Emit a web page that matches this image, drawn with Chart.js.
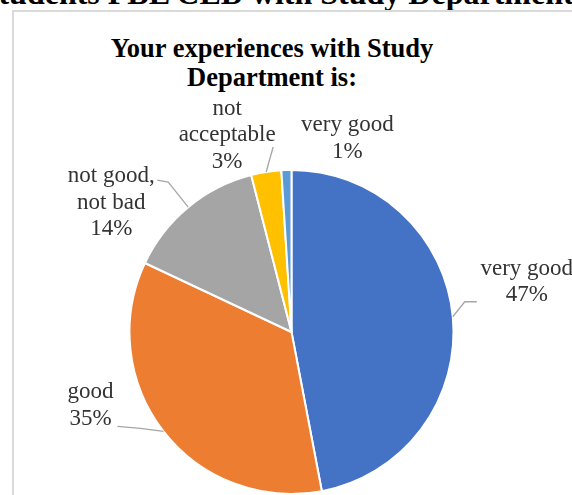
<!DOCTYPE html>
<html>
<head>
<meta charset="utf-8">
<title>Your experiences with Study Department is:</title>
<script src="https://cdn.jsdelivr.net/npm/chart.js@4.4.1/dist/chart.umd.min.js"></script>
<style>
  html, body { margin: 0; padding: 0; background: #fff; overflow: hidden; }
  #page { position: relative; width: 572px; height: 495px; overflow: hidden; }
  .heading {
    position: absolute; left: -14px; top: -23px; white-space: nowrap;
    font: bold 32px "Liberation Serif", "Times New Roman", serif; line-height: 32px; color: #000;
  }
  .frame {
    position: absolute; left: 12px; top: 10px; width: 700px; height: 700px;
    border: 2px solid #dadada; box-sizing: border-box;
  }
  .title {
    position: absolute; left: 12px; width: 520px; top: 34px; text-align: center;
    font: bold 26.5px "Liberation Serif", "Times New Roman", serif; line-height: 29px; color: #000;
  }
  #chart { position: absolute; left: 0; top: 0; }
</style>
</head>
<body>
<div id="page">
  <div class="heading">students PBL CED with Study Department</div>
  <div class="frame"></div>
  <div class="title">Your experiences with Study<br>Department is:</div>
  <canvas id="chart" width="572" height="495"></canvas>
</div>
<script>
// answers (multi-line labels as arrays) and their share in percent
const categories = [['very good'], ['good'], ['not good,', 'not bad'], ['not', 'acceptable'], ['very good']];
const shares = [47, 35, 14, 3, 1];
const sliceColors = ['#4472C4', '#ED7D31', '#A5A5A5', '#FFC000', '#5B9BD5'];

// where each label sits, relative to the point on the rim in the middle of its slice
const labelPlacement = [
  { dx: 74, dy: -42, leader: [[12, -15], [24, -15]] },
  { dx: -73, dy: -33, leader: [[-23, -3], [-46, -5]] },
  { dx: -77, dy: -25, leader: [[-20, -25], [-31, -27]] },
  { dx: -39, dy: -57, leader: [[7, -25]] },
  { dx: 61, dy: -39, leader: null }
];

// labels "name + percent" with grey leader lines
const sliceLabels = {
  id: 'sliceLabels',
  afterDatasetsDraw(chart) {
    const ctx = chart.ctx;
    const meta = chart.getDatasetMeta(0);
    const total = shares.reduce((a, b) => a + b, 0);
    ctx.save();
    meta.data.forEach((arc, i) => {
      const p = labelPlacement[i];
      const mid = (arc.startAngle + arc.endAngle) / 2;
      const ax = arc.x + Math.cos(mid) * arc.outerRadius;
      const ay = arc.y + Math.sin(mid) * arc.outerRadius;

      if (p.leader) {
        ctx.strokeStyle = '#a6a6a6';
        ctx.lineWidth = 1.3;
        ctx.beginPath();
        ctx.moveTo(ax, ay);
        p.leader.forEach(pt => ctx.lineTo(ax + pt[0], ay + pt[1]));
        ctx.stroke();
      }

      const lines = categories[i].concat([Math.round(shares[i] / total * 100) + '%']);
      ctx.fillStyle = '#333333';
      ctx.font = '23px "Liberation Serif", "Times New Roman", serif';
      ctx.textAlign = 'center';
      ctx.textBaseline = 'alphabetic';
      lines.forEach((t, k) => ctx.fillText(t, ax + p.dx, ay + p.dy + k * 26.5));
    });
    ctx.restore();
  }
};

new Chart(document.getElementById('chart'), {
  type: 'pie',
  data: {
    labels: categories,
    datasets: [{
      data: shares,
      backgroundColor: sliceColors,
      borderColor: '#ffffff',
      borderWidth: 2
    }]
  },
  options: {
    responsive: false,
    animation: false,
    radius: 162,
    layout: { padding: { top: 170, bottom: 1, left: 40, right: 29 } },
    plugins: {
      legend: { display: false },
      tooltip: { enabled: false }
    }
  },
  plugins: [sliceLabels]
});
</script>
</body>
</html>
